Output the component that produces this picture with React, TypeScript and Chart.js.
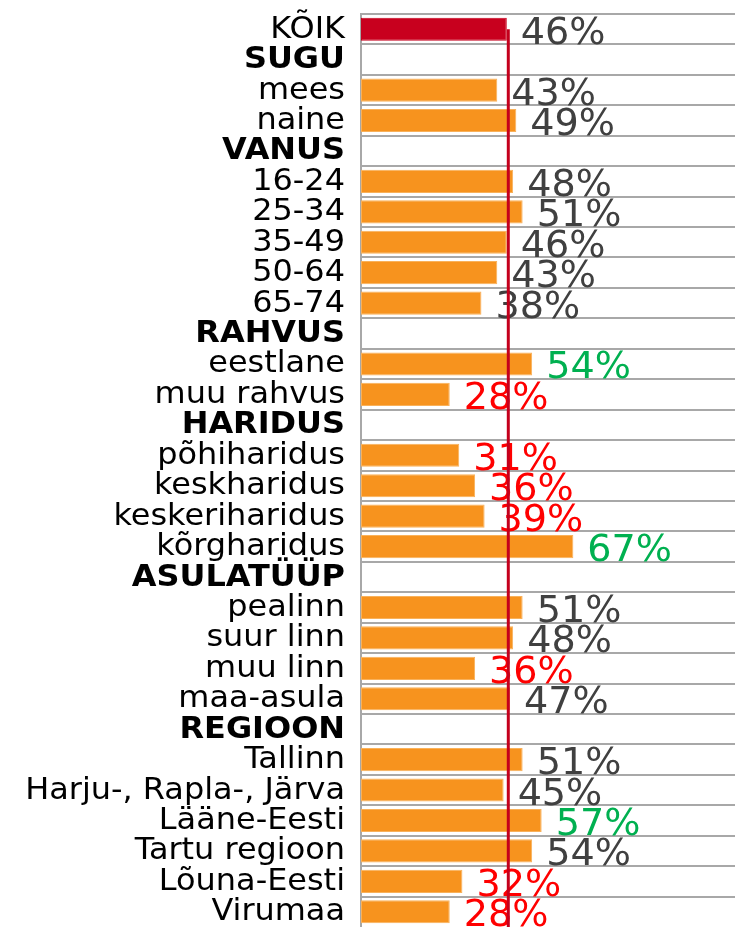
import React, { useEffect, useRef } from "react";
import { Chart, registerables } from "chart.js";

Chart.register(...registerables);

const categories = [
  "KÕIK", "SUGU", "mees", "naine", "VANUS", "16-24", "25-34", "35-49", "50-64", "65-74",
  "RAHVUS", "eestlane", "muu rahvus", "HARIDUS", "põhiharidus", "keskharidus", "keskeriharidus",
  "kõrgharidus", "ASULATÜÜP", "pealinn", "suur linn", "muu linn", "maa-asula", "REGIOON",
  "Tallinn", "Harju-, Rapla-, Järva", "Lääne-Eesti", "Tartu regioon", "Lõuna-Eesti", "Virumaa",
];

const values: (number | null)[] = [
  46, null, 43, 49, null, 48, 51, 46, 43, 38,
  null, 54, 28, null, 31, 36, 39,
  67, null, 51, 48, 36, 47, null,
  51, 45, 57, 54, 32, 28,
];

// g = gray (no difference), up = significantly higher, down = significantly lower
const significance: (string | null)[] = [
  "g", null, "g", "g", null, "g", "g", "g", "g", "g",
  null, "up", "down", null, "down", "down", "down",
  "up", null, "g", "g", "down", "g", null,
  "g", "g", "up", "g", "down", "down",
];

const headerRows = ["SUGU", "VANUS", "RAHVUS", "HARIDUS", "ASULATÜÜP", "REGIOON"];
const referenceValue = 46;

const sigColors: Record<string, string> = { g: "#404040", up: "#00B050", down: "#FF0000" };
const FONT = '"DejaVu Sans", Verdana, sans-serif';

const labelPlugin = {
  id: "customLabels",
  afterDatasetsDraw(chart: any) {
    const ctx = chart.ctx;
    const xs = chart.scales.x;
    const ys = chart.scales.y;
    const ca = chart.chartArea;

    // value labels
    values.forEach((v, i) => {
      if (v === null || v === undefined) return;
      const yc = ys.getPixelForValue(i);
      const xEnd = xs.getPixelForValue(v);
      ctx.save();
      ctx.font = `37px ${FONT}`;
      ctx.fillStyle = sigColors[significance[i] || "g"];
      ctx.textAlign = "left";
      ctx.textBaseline = "alphabetic";
      ctx.translate(xEnd + 14, yc + 14.5);
      ctx.scale(1.03, 1);
      ctx.fillText(`${v}%`, 0, 0);
      ctx.restore();
    });

    // reference line
    const xr = xs.getPixelForValue(referenceValue) + 1.5;
    ctx.save();
    ctx.strokeStyle = "#C4001C";
    ctx.lineWidth = 3;
    ctx.beginPath();
    ctx.moveTo(xr, ys.getPixelForValue(0));
    ctx.lineTo(xr, ca.bottom + 5);
    ctx.stroke();
    ctx.restore();
  },
  afterDraw(chart: any) {
    const ctx = chart.ctx;
    const ys = chart.scales.y;
    categories.forEach((c, i) => {
      const yc = ys.getPixelForValue(i);
      const bold = headerRows.includes(c);
      ctx.save();
      ctx.font = `${bold ? "bold " : ""}31px ${FONT}`;
      ctx.fillStyle = "#000000";
      ctx.textAlign = "right";
      ctx.textBaseline = "alphabetic";
      ctx.translate(345, yc + 8.5);
      ctx.scale(1.03, 1);
      ctx.fillText(c, 0, 0);
      ctx.restore();
    });
  },
};

export default function App() {
  const ref = useRef<HTMLCanvasElement | null>(null);

  useEffect(() => {
    if (!ref.current) return;
    const chart = new Chart(ref.current, {
      type: "bar",
      data: {
        labels: categories,
        datasets: [
          {
            data: values as any,
            backgroundColor: values.map((_, i) => (i === 0 ? "#C8001E" : "#F7931E")),
            borderColor: values.map((_, i) => (i === 0 ? "#C8001E" : "#F9B15A")),
            borderWidth: 1,
            borderSkipped: false,
            barPercentage: 0.76,
            categoryPercentage: 1,
          },
        ],
      },
      options: {
        indexAxis: "y",
        responsive: false,
        animation: false,
        devicePixelRatio: 1,
        layout: { padding: { top: 14, bottom: 0, left: 0, right: 0 } },
        plugins: { legend: { display: false }, tooltip: { enabled: false } },
        scales: {
          x: {
            display: false,
            min: 0,
            max: 118,
          },
          y: {
            display: true,
            ticks: { display: false },
            grid: {
              display: true,
              color: (c: any) => (c.type === "tick" ? "#A8A8A8" : "rgba(0,0,0,0)"),
              lineWidth: 2,
              drawTicks: false,
              offset: true,
            },
            border: { display: true, color: "#A8A8A8", width: 2 },
            afterFit: (scale: any) => {
              scale.width = 361;
            },
          },
        },
      },
      plugins: [labelPlugin],
    });
    return () => chart.destroy();
  }, []);

  return (
    <div style={{ position: "absolute", left: 0, top: 0, width: 735, height: 927, background: "#fff" }}>
      <canvas ref={ref} width={735} height={927} style={{ display: "block" }} />
    </div>
  );
}
